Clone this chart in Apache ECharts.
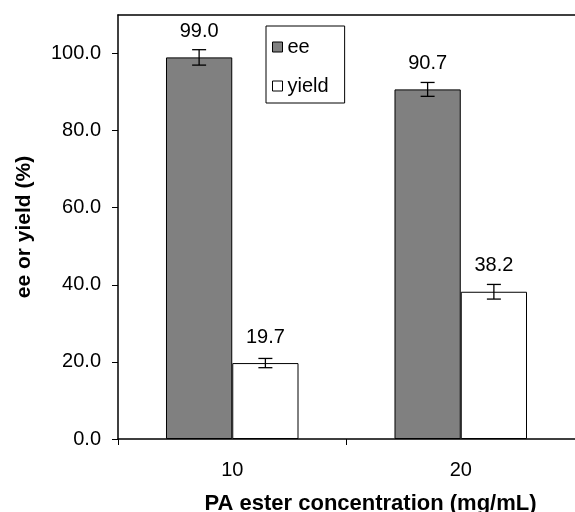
<!DOCTYPE html>
<html>
<head>
<meta charset="utf-8">
<script src="https://cdn.jsdelivr.net/npm/echarts@6/dist/echarts.min.js"></script>
<style>
  html, body { margin: 0; padding: 0; background: #fff; }
  #chart { width: 575px; height: 512px; }
</style>
</head>
<body>
<div id="chart"></div>
<script>
// PA ester concentration groups
const concentrations = ['10', '20'];
// enantiomeric excess and yield, percent
const eeValues = [99.0, 90.7];
const yieldValues = [19.7, 38.2];
// standard deviations shown as error bars
const eeErrors = [2.0, 1.8];
const yieldErrors = [1.2, 1.9];
// y-axis tick values
const yTicks = [0, 20, 40, 60, 80, 100];

const FONT = '"Liberation Sans", Arial, sans-serif';
const CAT_GAP = 0.42;

function errorSeries(values, errors, side) {
  return {
    type: 'custom',
    silent: true,
    z: 5,
    data: values.map((v, i) => [i, v, errors[i]]),
    renderItem: function (params, api) {
      const i = api.value(0);
      const v = api.value(1);
      const e = api.value(2);
      const band = api.size([1, 0])[0];
      const off = side * band * (1 - CAT_GAP) / 4;
      const hi = api.coord([i, v + e]);
      const lo = api.coord([i, v - e]);
      const x = hi[0] + off;
      const cap = 7;
      const style = { stroke: '#000', lineWidth: 1.3 };
      return {
        type: 'group',
        children: [
          { type: 'line', shape: { x1: x, y1: hi[1], x2: x, y2: lo[1] }, style },
          { type: 'line', shape: { x1: x - cap, y1: hi[1], x2: x + cap, y2: hi[1] }, style },
          { type: 'line', shape: { x1: x - cap, y1: lo[1], x2: x + cap, y2: lo[1] }, style }
        ]
      };
    }
  };
}

const chart = echarts.init(document.getElementById('chart'));
chart.setOption({
  animation: false,
  textStyle: { fontFamily: FONT },
  grid: { left: 118, right: 0, top: 15, bottom: 73, containLabel: false, outerBoundsMode: 'none' },
  legend: {
    orient: 'vertical',
    left: 266,
    top: 26,
    padding: [11, 16, 7, 6],
    itemGap: 19,
    itemWidth: 10,
    itemHeight: 10,
    borderColor: '#000',
    borderWidth: 1,
    icon: 'rect',
    data: ['ee', 'yield'],
    itemStyle: { borderColor: '#000', borderWidth: 1 },
    textStyle: { fontSize: 20, color: '#000', fontFamily: FONT }
  },
  xAxis: [
    {
      type: 'category',
      data: concentrations,
      name: 'PA ester concentration (mg/mL)',
      nameLocation: 'middle',
      nameGap: 54,
      nameTextStyle: { fontSize: 22, fontWeight: 'bold', color: '#000', fontFamily: FONT, padding: [0, 0, 0, 48] },
      axisLine: { lineStyle: { color: '#000', width: 1.5 } },
      axisTick: { show: true, length: 6, lineStyle: { color: '#000' } },
      axisLabel: { fontSize: 20, color: '#000', margin: 21 }
    },
    {
      type: 'category',
      data: concentrations,
      position: 'top',
      axisLine: { lineStyle: { color: '#000', width: 1.5 } },
      axisTick: { show: false },
      axisLabel: { show: false }
    }
  ],
  yAxis: {
    type: 'value',
    min: 0,
    max: 110,
    interval: 20,
    name: 'ee or yield (%)',
    nameLocation: 'middle',
    nameGap: 83,
    nameTextStyle: { fontSize: 21, fontWeight: 'bold', color: '#000', fontFamily: FONT, padding: [0, 0, 0, 0] },
    axisLine: { show: true, lineStyle: { color: '#000', width: 1.5 } },
    axisTick: { show: true, length: 6, customValues: yTicks, lineStyle: { color: '#000' } },
    axisLabel: {
      fontSize: 20, color: '#000', margin: 17,
      customValues: yTicks,
      formatter: v => v.toFixed(1)
    },
    splitLine: { show: false }
  },
  series: [
    {
      name: 'ee',
      type: 'bar',
      data: eeValues,
      barGap: '0%',
      barCategoryGap: (CAT_GAP * 100) + '%',
      itemStyle: { color: '#808080', borderColor: '#000', borderWidth: 1 },
      label: {
        show: true, position: 'top', distance: 16,
        fontSize: 20, color: '#000', fontFamily: FONT,
        formatter: p => p.value.toFixed(1)
      }
    },
    {
      name: 'yield',
      type: 'bar',
      data: yieldValues,
      itemStyle: { color: '#ffffff', borderColor: '#000', borderWidth: 1 },
      label: {
        show: true, position: 'top', distance: 16,
        fontSize: 20, color: '#000', fontFamily: FONT,
        formatter: p => p.value.toFixed(1)
      }
    },
    errorSeries(eeValues, eeErrors, -1),
    errorSeries(yieldValues, yieldErrors, 1)
  ]
});
</script>
</body>
</html>
